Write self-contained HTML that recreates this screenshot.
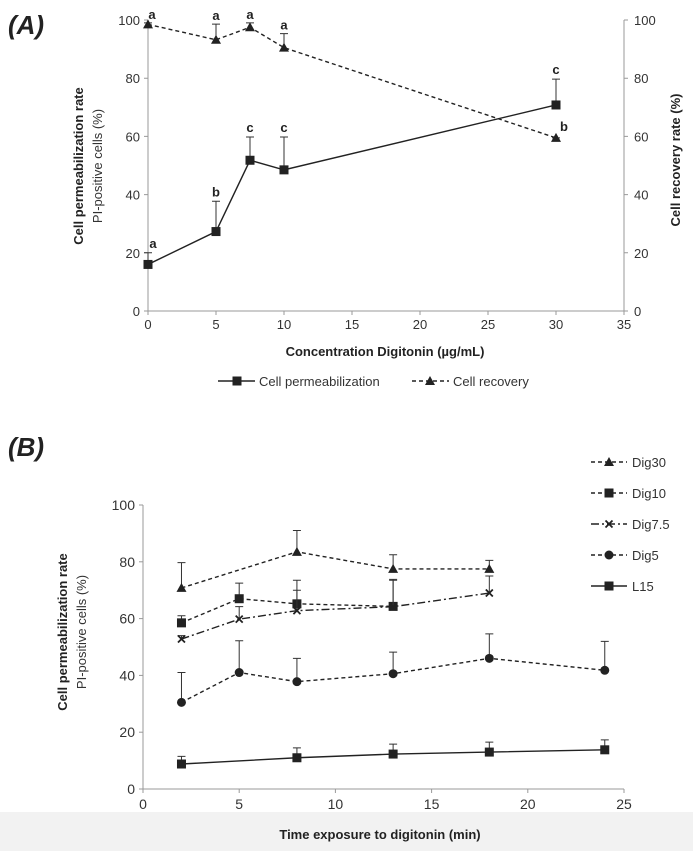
<!DOCTYPE html>
<html><head><meta charset="utf-8">
<style>
body{margin:0;background:#fff;}
svg{display:block;font-family:"Liberation Sans",sans-serif;}
</style></head>
<body>
<svg id="chart" width="693" height="851" viewBox="0 0 693 851">
<rect x="0" y="812" width="693" height="39" fill="#f2f2f2"/>
</svg>
<script>
// Panel A data
const concA = [0, 5, 7.5, 10, 30];
const permA = [16, 27.3, 51.8, 48.5, 70.8];
const permErrTopA = [20, 37.7, 59.8, 59.8, 79.7];
const permLetters = ['a','b','c','c','c'];
const recA = [98.5, 93.2, 97.5, 90.5, 59.5];
const recErrTopA = [99, 98.6, 99, 95.3, 59.5];
const recLetters = ['a','a','a','a','b'];
const xTicksA = [0,5,10,15,20,25,30,35];
const yTicks = [0,20,40,60,80,100];
// Panel B data
const timeB = [2, 5, 8, 13, 18, 24];
const xTicksB = [0,5,10,15,20,25];
const dig30 = [70.8, null, 83.5, 77.5, 77.5, null];
const dig30Err = [79.7, null, 91, 82.5, 80.5, null];
const dig10 = [58.5, 67, 65.2, 64.3, null, null];
const dig10Err = [61, 72.5, 73.5, 73.8, null, null];
const dig75 = [52.8, 59.8, 62.8, 64.2, 69, null];
const dig75Err = [54, 64.2, 70, 73.5, 75, null];
const dig5 = [30.5, 41, 37.8, 40.6, 46, 41.8];
const dig5Err = [41, 52.2, 46, 48.2, 54.6, 52];
const l15 = [8.8, null, 11, 12.3, 13, 13.8];
const l15Err = [11.5, null, 14.5, 15.8, 16.5, 17.3];
const legendB = ['Dig30','Dig10','Dig7.5','Dig5','L15'];

const svg = document.getElementById('chart');
const NS = 'http://www.w3.org/2000/svg';
function mk(tag, attrs, text){const e=document.createElementNS(NS,tag);for(const k in attrs)e.setAttribute(k,attrs[k]);if(text!==undefined)e.textContent=text;svg.appendChild(e);return e;}

const axA = {x0:148,x1:624,xmax:35,y0:311,y1:20};
const xA = v => axA.x0 + v/axA.xmax*(axA.x1-axA.x0);
const yA = v => axA.y0 - v/100*(axA.y0-axA.y1);
const axB = {x0:143,x1:624,xmax:25,y0:789,y1:505};
const xB = v => axB.x0 + v/axB.xmax*(axB.x1-axB.x0);
const yB = v => axB.y0 - v/100*(axB.y0-axB.y1);

function marker(type,x,y,name){
  let e;
  if(type==='square'){e=mk('rect',{x:x-4.5,y:y-4.5,width:9,height:9,fill:'#222'});}
  else if(type==='tri'){e=mk('polygon',{points:`${x},${y-5} ${x-5},${y+4} ${x+5},${y+4}`,fill:'#222'});}
  else if(type==='circle'){e=mk('circle',{cx:x,cy:y,r:4.5,fill:'#222'});}
  else if(type==='x'){e=mk('path',{d:`M${x-3.5},${y-3.5}L${x+3.5},${y+3.5}M${x+3.5},${y-3.5}L${x-3.5},${y+3.5}`,stroke:'#222','stroke-width':1.8});}
  
  
}
function errBar(x,yv,yt,name){
  const g=mk('path',{d:`M${x},${yv}L${x},${yt}M${x-4},${yt}L${x+4},${yt}`,stroke:'#333','stroke-width':1,fill:'none'});
  
  
}
function series(xs,ys,errs,xf,yf,dash,mtype,name){
  const pts=[];
  xs.forEach((xv,i)=>{if(ys[i]!==null)pts.push([xf(xv),yf(ys[i]),errs?yf(errs[i]):null]);});
  const l=mk('polyline',{points:pts.map(p=>p[0]+','+p[1]).join(' '),fill:'none',stroke:'#222','stroke-width':1.4,'stroke-dasharray':dash});
  
  
  pts.forEach((p,i)=>{ if(p[2]!==null) errBar(p[0],p[1],p[2],name+'-error-bar'); marker(mtype,p[0],p[1],name+'-point'); });
  return pts;
}

// ---- Panel A ----
let t=mk('text',{x:8,y:34,'font-size':26,'font-weight':'bold','font-style':'italic',fill:'#222'},'(A)');

let ax=mk('path',{d:`M${axA.x0},${axA.y1}L${axA.x0},${axA.y0}L${axA.x1},${axA.y0}M${axA.x1},${axA.y0}L${axA.x1},${axA.y1}`,stroke:'#999',fill:'none'});

xTicksA.forEach(v=>{
  const tk=mk('path',{d:`M${xA(v)},${axA.y0}L${xA(v)},${axA.y0+4}`,stroke:'#999'});
  
  const tl=mk('text',{x:xA(v),y:axA.y0+18,'font-size':13,'text-anchor':'middle',fill:'#333'},String(v));
  
});
yTicks.forEach(v=>{
  const tk=mk('path',{d:`M${axA.x0-4},${yA(v)}L${axA.x0},${yA(v)}M${axA.x1},${yA(v)}L${axA.x1+4},${yA(v)}`,stroke:'#999'});
  
  const tl=mk('text',{x:axA.x0-8,y:yA(v)+5,'font-size':13,'text-anchor':'end',fill:'#333'},String(v));
  
  const tr=mk('text',{x:axA.x1+10,y:yA(v)+5,'font-size':13,'text-anchor':'start',fill:'#333'},String(v));
  
});
t=mk('text',{transform:'translate(83,166) rotate(-90)','font-size':13,'font-weight':'bold','text-anchor':'middle',fill:'#222'},'Cell permeabilization rate');

t=mk('text',{transform:'translate(102,166) rotate(-90)','font-size':13,'text-anchor':'middle',fill:'#333'},'PI-positive cells (%)');

t=mk('text',{transform:'translate(680,160) rotate(-90)','font-size':13,'font-weight':'bold','text-anchor':'middle',fill:'#222'},'Cell recovery rate (%)');

t=mk('text',{x:385,y:356,'font-size':13,'font-weight':'bold','text-anchor':'middle',fill:'#222'},'Concentration Digitonin (µg/mL)');


series(concA,recA,recErrTopA,xA,yA,'4,3','tri','cell-recovery');
series(concA,permA,permErrTopA,xA,yA,'none','square','cell-permeabilization');
concA.forEach((c,i)=>{
  const l1=mk('text',{x:xA(c)+(i===0?5:0),y:yA(permErrTopA[i])-5,'font-size':13,'font-weight':'bold','text-anchor':'middle',fill:'#222'},permLetters[i]);
  
  const yy = i===4 ? yA(recA[i])-7 : yA(recErrTopA[i])-4;
  const xx = i===4 ? xA(c)+8 : xA(c)+(i===0?4:0);
  const l2=mk('text',{x:xx,y:yy,'font-size':13,'font-weight':'bold','text-anchor':'middle',fill:'#222'},recLetters[i]);
  
});
// legend A
let lg=mk('path',{d:'M218,381L255,381',stroke:'#222','stroke-width':1.4});

marker('square',237,381,'legend-marker-permeabilization');
t=mk('text',{x:259,y:386,'font-size':13,fill:'#333'},'Cell permeabilization');

lg=mk('path',{d:'M412,381L449,381',stroke:'#222','stroke-width':1.4,'stroke-dasharray':'4,3'});

marker('tri',430,381,'legend-marker-recovery');
t=mk('text',{x:453,y:386,'font-size':13,fill:'#333'},'Cell recovery');


// ---- Panel B ----
t=mk('text',{x:8,y:456,'font-size':26,'font-weight':'bold','font-style':'italic',fill:'#222'},'(B)');

ax=mk('path',{d:`M${axB.x0},${axB.y1}L${axB.x0},${axB.y0}L${axB.x1},${axB.y0}`,stroke:'#999',fill:'none'});

xTicksB.forEach(v=>{
  const tk=mk('path',{d:`M${xB(v)},${axB.y0}L${xB(v)},${axB.y0+4}`,stroke:'#999'});
  
  const tl=mk('text',{x:xB(v),y:axB.y0+20,'font-size':14,'text-anchor':'middle',fill:'#333'},String(v));
  
});
yTicks.forEach(v=>{
  const tk=mk('path',{d:`M${axB.x0-4},${yB(v)}L${axB.x0},${yB(v)}`,stroke:'#999'});
  
  const tl=mk('text',{x:axB.x0-8,y:yB(v)+5,'font-size':14,'text-anchor':'end',fill:'#333'},String(v));
  
});
t=mk('text',{transform:'translate(67,632) rotate(-90)','font-size':13,'font-weight':'bold','text-anchor':'middle',fill:'#222'},'Cell permeabilization rate');

t=mk('text',{transform:'translate(86,632) rotate(-90)','font-size':13,'text-anchor':'middle',fill:'#333'},'PI-positive cells (%)');

t=mk('text',{x:380,y:839,'font-size':13,'font-weight':'bold','text-anchor':'middle',fill:'#222'},'Time exposure to digitonin (min)');


const seriesB=[
  [dig30,dig30Err,'4,3','tri','dig30'],
  [dig10,dig10Err,'4,3','square','dig10'],
  [dig75,dig75Err,'8,3,2,3','x','dig7-5'],
  [dig5,dig5Err,'4,3','circle','dig5'],
  [l15,l15Err,'none','square','l15']
];
seriesB.forEach(s=>series(timeB,s[0],s[1],xB,yB,s[2],s[3],s[4]));
legendB.forEach((name,i)=>{
  const s=seriesB[i]; const y=462+i*31;
  const l=mk('path',{d:`M591,${y}L627,${y}`,stroke:'#222','stroke-width':1.4,'stroke-dasharray':s[2]});
  
  marker(s[3],609,y,'legend-marker-'+s[4]);
  const tx=mk('text',{x:632,y:y+5,'font-size':13,fill:'#333'},name);
  
});
</script>
</body></html>
